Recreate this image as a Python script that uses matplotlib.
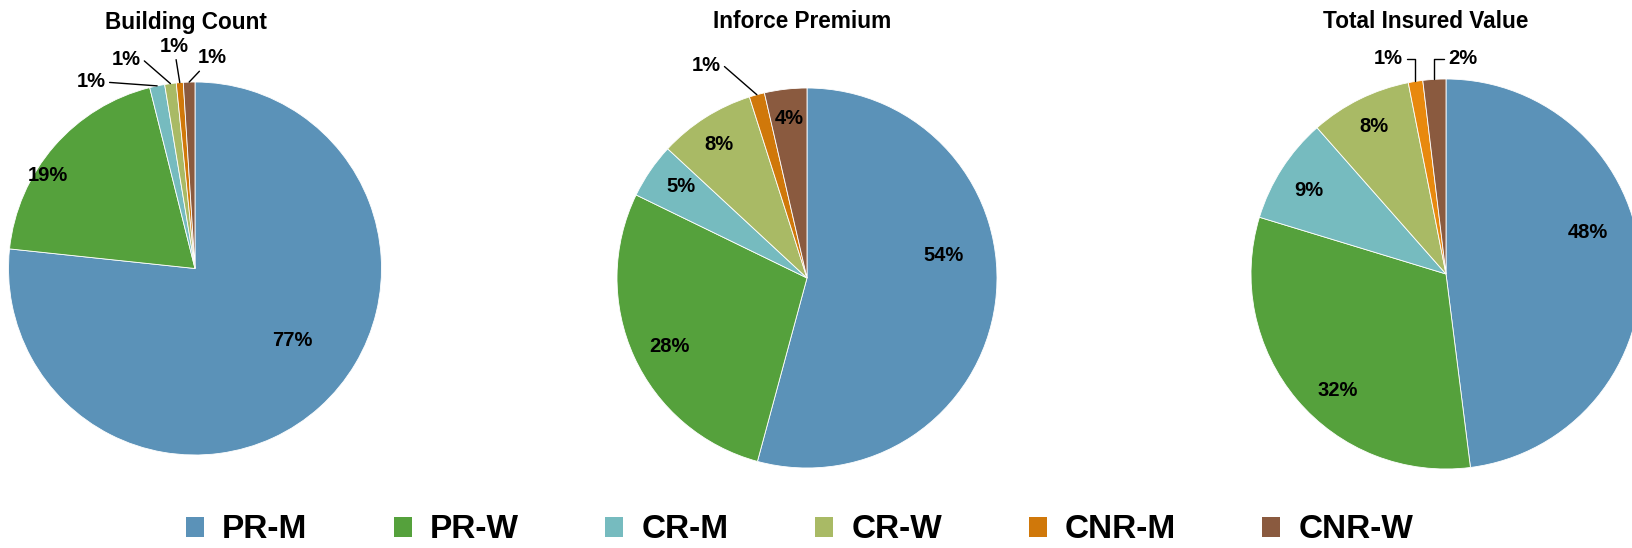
import matplotlib
matplotlib.use('Agg')
import matplotlib.pyplot as plt
from matplotlib.patches import Patch
import numpy as np

W, H = 1633, 548

categories = ['PR-M', 'PR-W', 'CR-M', 'CR-W', 'CNR-M', 'CNR-W']
titles = ['Building Count', 'Inforce Premium', 'Total Insured Value']

building_count = [76.6, 19.4, 1.3, 1.0, 0.6, 1.0]
inforce_premium = [54.2, 28.0, 4.7, 8.2, 1.3, 3.6]
total_insured = [48.0, 31.7, 8.8, 8.4, 1.2, 1.9]
series = [building_count, inforce_premium, total_insured]

colors = ['#5B92B8', '#55A13C', '#76BBBF', '#A9BA65', '#D0780A', '#8A5A3F']
colors_tiv = ['#5B92B8', '#55A13C', '#76BBBF', '#A9BA65', '#E8890E', '#8A5A3F']

# layout (pixels from top-left): pie centre x, centre y, radius
pie_geom = [(195, 268.5, 186.5), (807, 278, 190), (1446, 274, 195)]
title_pos = [(186, 28.5), (802, 28.5), (1426, 28.5)]

# label positions in pie-radius units, and leader line style (None = inside)
label_pos = [
    [(0.524, -0.386), (-0.789, 0.501), (-0.558, 1.005), (-0.370, 1.118), (-0.113, 1.193), (0.091, 1.129)],
    [(0.716, 0.121), (-0.726, -0.363), (-0.663, 0.479), (-0.463, 0.705), (-0.532, 1.116), (-0.095, 0.837)],
    [(0.728, 0.215), (-0.554, -0.600), (-0.703, 0.426), (-0.369, 0.754), (-0.297, 1.103), (0.087, 1.103)],
]
leaders = [
    [None, None, 'arc3', 'angle,angleA=0,angleB=-41,rad=0', 'arc3', 'arc3'],
    [None, None, None, None, 'angle,angleA=0,angleB=-41,rad=0', None],
    [None, None, None, None, 'angle,angleA=0,angleB=90,rad=0', 'angle,angleA=0,angleB=90,rad=0'],
]

plt.rcParams['font.family'] = ['Liberation Sans', 'DejaVu Sans']

fig = plt.figure(figsize=(W / 100, H / 100), dpi=100)

for i, vals in enumerate(series):
    cx, cy, r = pie_geom[i]
    ax = fig.add_axes([(cx - r) / W, 1 - (cy + r) / H, 2 * r / W, 2 * r / H])
    cols = colors_tiv if i == 2 else colors
    wedges, _ = ax.pie(vals, colors=cols, startangle=90, counterclock=False,
                       radius=1, wedgeprops=dict(edgecolor='white', linewidth=0.6))
    ax.set_xlim(-1, 1)
    ax.set_ylim(-1, 1)
    ax.set_aspect('equal')
    ax.axis('off')
    total = sum(vals)
    for j, w in enumerate(wedges):
        txt = '%d%%' % round(vals[j] / total * 100)
        lx, ly = label_pos[i][j]
        style = leaders[i][j]
        if style is None:
            ax.text(lx, ly, txt, ha='center', va='center', fontsize=14.5,
                    fontweight='bold', color='black')
        else:
            mid = np.deg2rad((w.theta1 + w.theta2) / 2)
            ax.annotate(txt, xy=(np.cos(mid), np.sin(mid)), xytext=(lx, ly),
                        ha='center', va='center', fontsize=14.5, fontweight='bold',
                        annotation_clip=False,
                        arrowprops=dict(arrowstyle='-', color='black', lw=1,
                                        shrinkA=1, shrinkB=0,
                                        connectionstyle=style))
    tx, ty = title_pos[i]
    fig.text(tx / W, 1 - ty / H, titles[i], ha='center', va='baseline',
             fontsize=16.3, fontweight='bold')

handles = [Patch(facecolor=c, edgecolor='none') for c in colors]
fig.legend(handles, categories, loc='center', bbox_to_anchor=(799.5 / W, 1 - 530 / H),
           ncol=6, frameon=False, prop=dict(size=24, weight='bold'),
           handlelength=0.54, handleheight=0.54, handletextpad=0.54,
           columnspacing=2.6, borderpad=0, borderaxespad=0)

fig.savefig('out.png', dpi=100)
